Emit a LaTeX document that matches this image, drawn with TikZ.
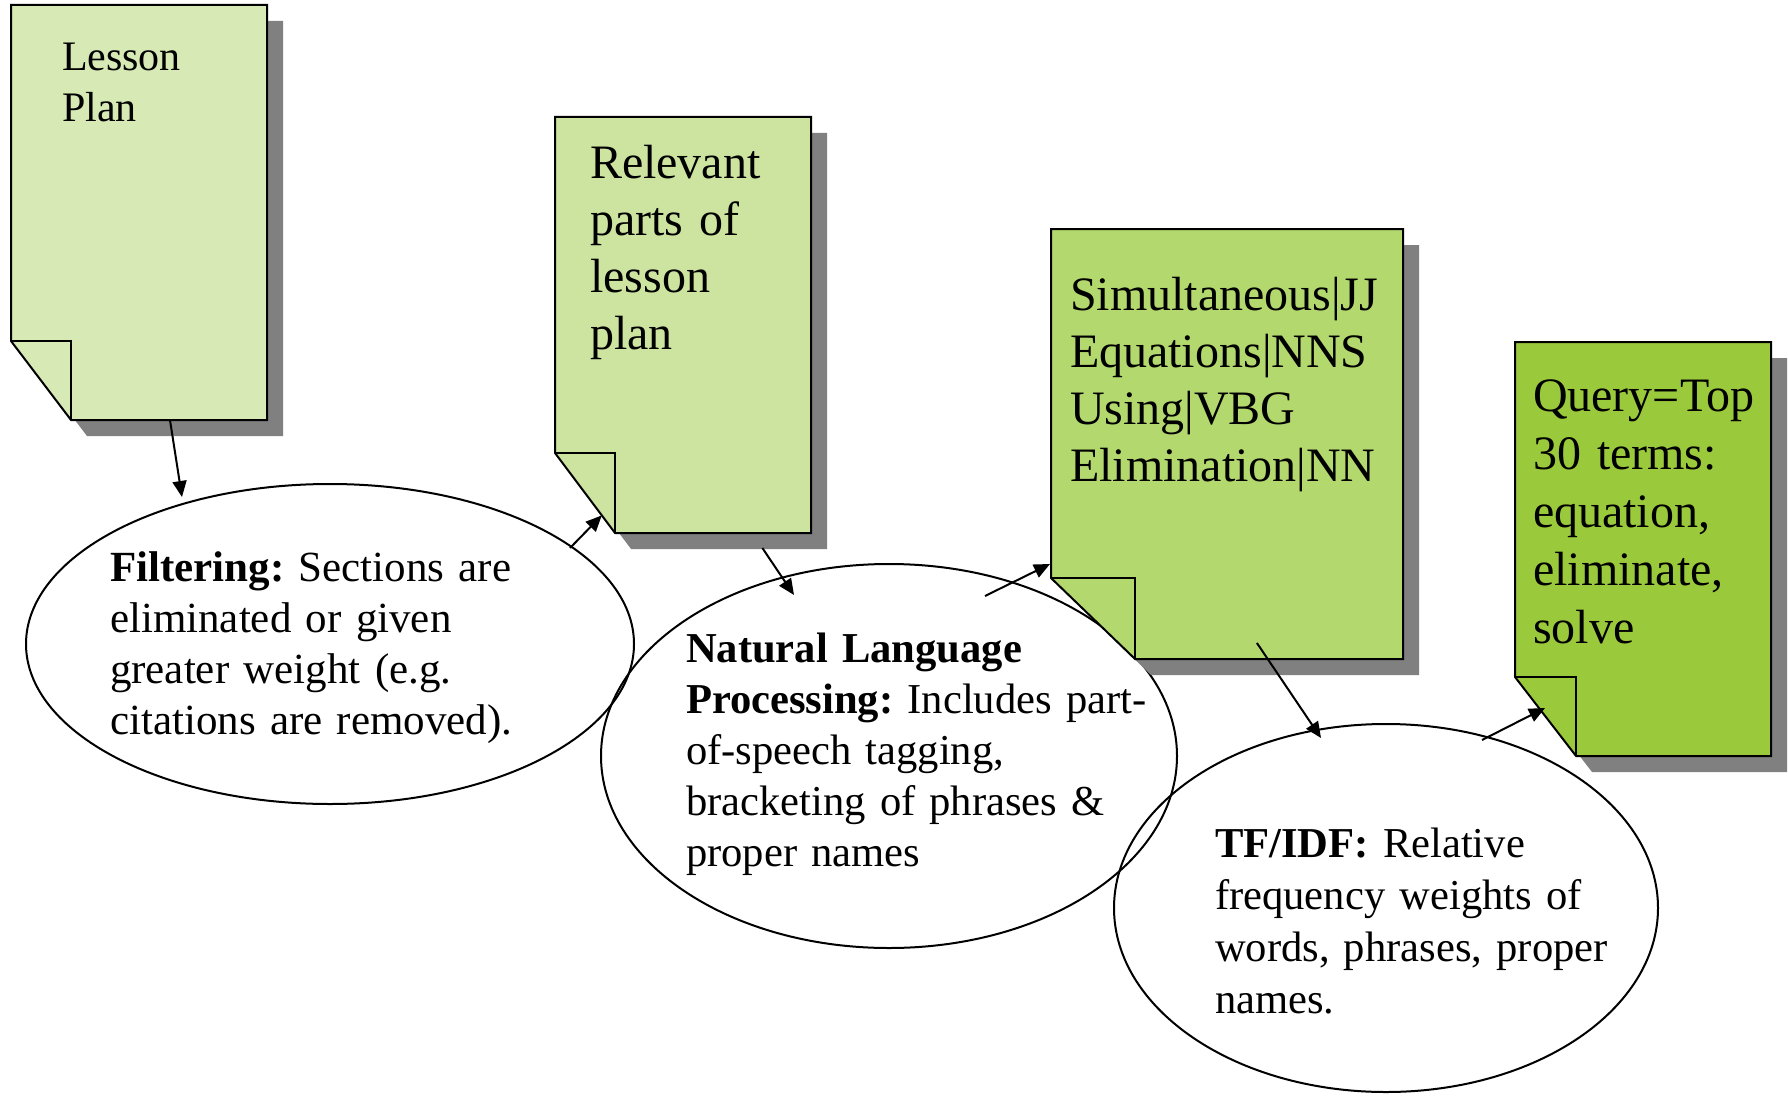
\documentclass[tikz,border=0pt]{standalone}
\usepackage{fontspec}
\setmainfont{Liberation Serif}
\usetikzlibrary{shapes.geometric,arrows.meta,calc}
\definecolor{docA}{RGB}{215,233,180}
\definecolor{docB}{RGB}{205,228,160}
\definecolor{docC}{RGB}{179,216,110}
\definecolor{docD}{RGB}{154,202,60}
\definecolor{shadowc}{RGB}{128,128,128}
\frenchspacing
\newcommand\docsheet[4]{%
  \coordinate (#1fa) at ($(#1.south west)+(0,-#4)$);
  \coordinate (#1fb) at ($(#1.south west)+(#3,0)$);
  \fill[shadowc] ($(#1.north west)+(16,16)$) -- ($(#1.north east)+(16,16)$) -- ($(#1.south east)+(16,16)$) -- ($(#1fb)+(16,16)$) -- ($(#1fa)+(16,16)$) -- cycle;
  \filldraw[fill=#2, draw=black, line width=1pt, line join=miter] (#1.north west) -- (#1.north east) -- (#1.south east) -- (#1fb) -- (#1fa) -- cycle;
  \draw[line width=1pt] (#1fa) -- (#1fb |- #1fa) -- (#1fb);
}
\begin{document}
\begin{tikzpicture}[x=0.5pt,y=-0.5pt,
  docframe/.style={anchor=north west, inner sep=0, outer sep=0, draw=none},
  bubble/.style={ellipse, draw, line width=1pt, inner sep=0, outer sep=0},
  txt/.style={anchor=base west, inner sep=0, outer sep=0, align=left, text width=300pt},
  arr/.style={line width=1pt, -{Triangle[length=8pt,width=7pt]}}]
\useasboundingbox (0,0) rectangle (1788,1097);
\fill[white] (0,0) rectangle (1788,1097);

% ellipses
\node[bubble, minimum width=304pt, minimum height=160pt] (filt) at (330,644) {};
\node[bubble, minimum width=288pt, minimum height=192pt] (nlp) at (889,756) {};
\node[bubble, minimum width=272pt, minimum height=184pt] (tf) at (1386,908) {};

% documents
\node[docframe, minimum width=128pt, minimum height=207.5pt] (d1) at (11,5) {};
\node[docframe, minimum width=128pt, minimum height=208pt] (d2) at (555,117) {};
\node[docframe, minimum width=176pt, minimum height=215pt] (d3) at (1051,229) {};
\node[docframe, minimum width=128pt, minimum height=207pt] (d4) at (1515,342) {};
\docsheet{d1}{docA}{60}{79}
\docsheet{d2}{docB}{60}{80}
\docsheet{d3}{docC}{84}{81}
\docsheet{d4}{docD}{61}{79}

% texts
\node[txt, font=\fontsize{21pt}{25.5pt}\selectfont] (t1) at (62,71) {Lesson\\Plan};
\node[txt, font=\fontsize{24pt}{28.5pt}\selectfont] (t2) at (590,178) {Relevant\\parts of\\lesson\\plan};
\node[txt, font=\fontsize{24pt}{28.5pt}\selectfont] (t3) at (1070,310) {Simultaneous|JJ\\Equations|NNS\\Using|VBG\\Elimination|NN};
\node[txt, font=\fontsize{24pt}{29pt}\selectfont] (t4) at (1533,411) {Query=Top\\30 terms:\\equation,\\eliminate,\\solve};
\node[txt, font=\fontsize{21.5pt}{25.5pt}\selectfont] (tfilt) at (110,581) {\textbf{Filtering:} Sections are\\eliminated or given\\greater weight (e.g.\\citations are removed).};
\node[txt, font=\fontsize{21.3pt}{25.5pt}\selectfont] (tnlp) at (686,662) {\textbf{Natural Language}\\\textbf{Processing:} Includes part-\\of-speech tagging,\\bracketing of phrases \&\\proper names};
\node[txt, font=\fontsize{21.3pt}{26pt}\selectfont] (ttf) at (1215,857) {\textbf{TF/IDF:} Relative\\frequency weights of\\words, phrases, proper\\names.};

% connectors
\draw[arr] ($(d1.south west)!0.621!(d1.south east)$) -- ($(filt.center)+(-148,-147)$);
\draw[arr] ($(filt.center)+(240,-96)$) -- ($(d2fa)!0.78!(d2fb)$);
\draw[arr] ($(d2.south west)!0.81!(d2.south east)+(0,15)$) -- ($(nlp.center)+(-95,-161)$);
\draw[arr] ($(nlp.center)+(96,-160)$) -- ($(d3fa)+(-1,-14)$);
\draw[arr] ($(d3.south west)!0.585!(d3.south east)+(0,-16)$) -- ($(tf.center)+(-65,-170)$);
\draw[arr] ($(tf.center)+(96,-168)$) -- ($(d4fa)+(30,31)$);
\end{tikzpicture}
\end{document}
